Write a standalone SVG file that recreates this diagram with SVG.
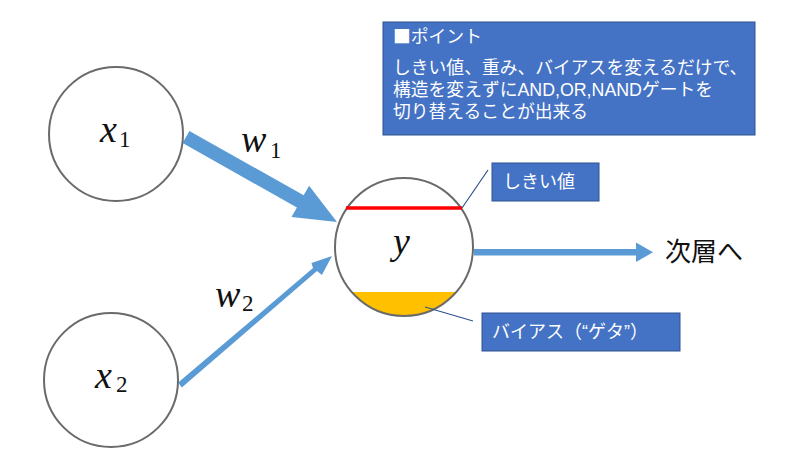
<svg xmlns="http://www.w3.org/2000/svg" width="787" height="471" viewBox="0 0 787 471">
<defs>
<style>
.node{fill:#fff;stroke:#6a6a6a;stroke-width:2}
.arrow{fill:#5B9BD5}
.box{fill:#4472C4;stroke:#2F528F;stroke-width:1}
.boxtxt{font-family:'Liberation Sans','Noto Sans CJK JP',sans-serif;fill:#fff}
.cjk{font-family:'Noto Sans CJK JP',sans-serif}
.leader{stroke:#2F528F;stroke-width:1.2;fill:none}
</style>
</defs>
<rect width="787" height="471" fill="#fff"/>

<g id="connectors">
<polygon class="arrow" points="189.4,130.9 303.7,195.3 309.1,185.7 337,222 291.5,217.1 296.9,207.5 182.6,143.1"/>
<polygon class="arrow" points="178.2,382.6 313,268 311.5,262.9 332,256 321.9,275.1 317,271 181.8,387.4"/>
<rect class="arrow" x="474" y="249" width="165" height="6.5"/>
<polygon class="arrow" points="636,242.5 653,252.3 636,262"/>
</g>

<g id="label-w1">
<text x="241" y="152" font-family="'Liberation Serif', serif" font-size="38" font-style="italic" fill="#111">w</text>
<text x="270" y="158" font-family="'Liberation Serif', serif" font-size="23" fill="#111">1</text>
</g>
<g id="label-w2">
<text x="215" y="307" font-family="'Liberation Serif', serif" font-size="38" font-style="italic" fill="#111">w</text>
<text x="242" y="311" font-family="'Liberation Serif', serif" font-size="23" fill="#111">2</text>
</g>

<g id="node-x1">
<circle class="node" cx="116" cy="134" r="67"/>
<text x="100" y="142" font-family="'Liberation Serif', serif" font-size="38" font-style="italic" fill="#111">x</text>
<text x="119" y="147" font-family="'Liberation Serif', serif" font-size="23" fill="#111">1</text>
</g>

<g id="node-x2">
<circle class="node" cx="111" cy="380" r="67"/>
<text x="95" y="388" font-family="'Liberation Serif', serif" font-size="38" font-style="italic" fill="#111">x</text>
<text x="116" y="392" font-family="'Liberation Serif', serif" font-size="23" fill="#111">2</text>
</g>

<g id="node-y">
<circle cx="404" cy="247" r="69" fill="#fff"/>
<path d="M351.7,292 L456.3,292 A69,69 0 0 1 351.7,292 Z" fill="#FFC000"/>
<circle cx="404" cy="247" r="69" fill="none" stroke="#6a6a6a" stroke-width="2"/>
<line x1="346" y1="208" x2="462" y2="208" stroke="#FF0000" stroke-width="3.5"/>
<text x="393" y="254" font-family="'Liberation Serif', serif" font-size="38" font-style="italic" fill="#111">y</text>
</g>

<g id="next-layer">
<text x="665" y="261" font-size="26" font-family="'Noto Sans CJK JP',sans-serif" fill="#111">次層へ</text>
</g>

<g id="point-box">
<rect class="box" x="383" y="22" width="372" height="113"/>
<text class="boxtxt cjk" x="393" y="43" font-size="17.8">■ポイント</text>
<text class="boxtxt" x="393" y="74" font-size="17.8">しきい値、重み、バイアスを変えるだけで、</text>
<text class="boxtxt" x="393" y="96" font-size="17.8">構造を変えずにAND,OR,NANDゲートを</text>
<text class="boxtxt" x="393" y="118" font-size="17.8">切り替えることが出来る</text>
</g>

<g id="threshold-callout">
<line class="leader" x1="462" y1="208" x2="488" y2="170"/>
<rect class="box" x="492" y="163" width="107" height="38"/>
<text class="boxtxt" x="503" y="188" font-size="18">しきい値</text>
</g>

<g id="bias-callout">
<line class="leader" x1="425" y1="307" x2="473" y2="321"/>
<rect class="box" x="482" y="313" width="198" height="38"/>
<text class="boxtxt" x="492" y="338" font-size="18">バイアス（“ゲタ”）</text>
</g>
</svg>
